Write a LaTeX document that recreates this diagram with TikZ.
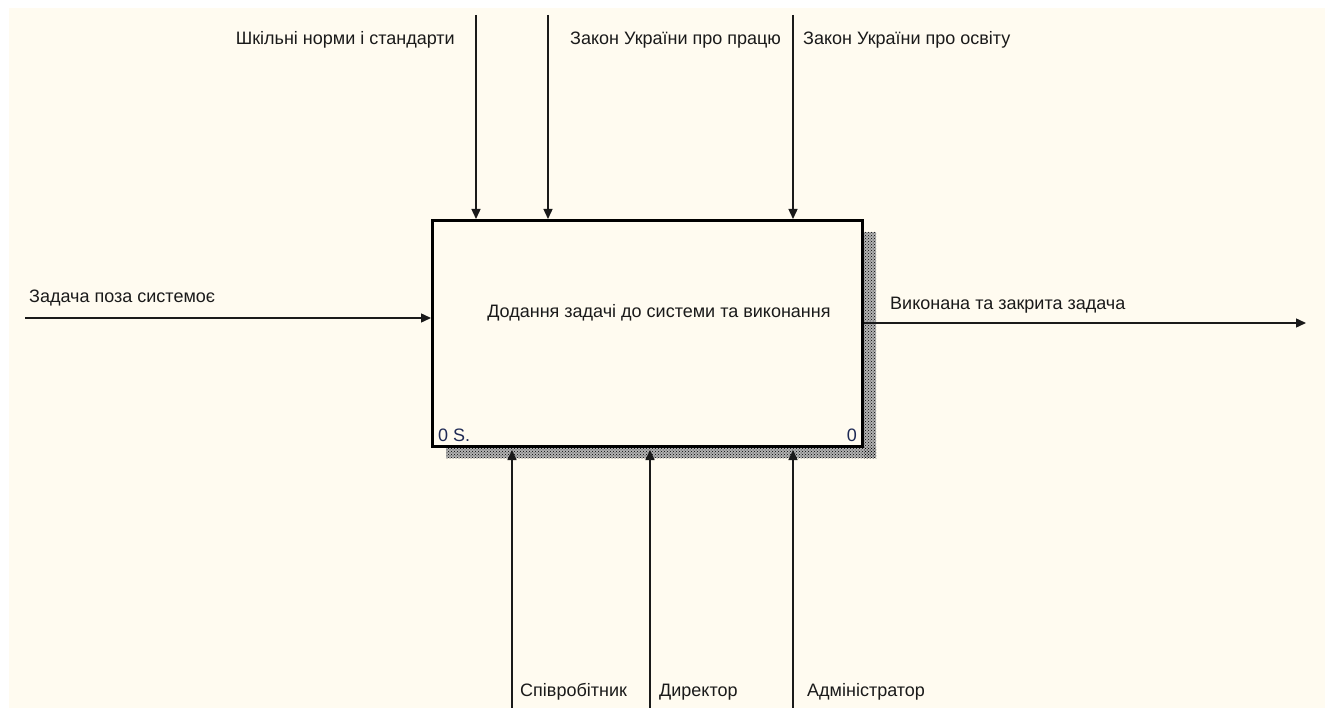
\documentclass[tikz,border=0pt]{standalone}
\usepackage{fontspec}
\setmainfont{Liberation Sans}
\usetikzlibrary{arrows.meta,patterns}
\definecolor{paper}{HTML}{FFFBF0}
\definecolor{ink}{HTML}{1A1A1A}
\definecolor{numcol}{HTML}{1F2A55}
\begin{document}
\begin{tikzpicture}[x=1pt,y=-1pt,
  lbl/.style={font=\fontsize{18}{21}\selectfont, text=ink, inner sep=0pt},
  flow/.style={draw=ink, line width=1.4pt, -{Triangle[length=10pt,width=9pt]}},
  shade/.style={pattern=crosshatch dots, pattern color=black, draw=none},
  funcbox/.style={draw=black, line width=3pt, fill=paper, inner sep=0pt,
    minimum width=430pt, minimum height=226pt, anchor=north west}]
  % canvas
  \useasboundingbox (0,0) rectangle (1325,708);
  \fill[white] (0,0) rectangle (1325,708);
  \fill[paper] (9,8) rectangle (1325,708);

  % drop shadow of the activity box
  \fill[black!30] (864,232) rectangle (876,458);
  \fill[black!30] (446,447) rectangle (876,458);
  \fill[shade] (864,232) rectangle (876,458);
  \fill[shade] (446,447) rectangle (876,458);

  % activity box
  \node[funcbox] (box) at (431,219) {};
  \node[lbl] (title) at (659,313) {Додання задачі до системи та виконання};
  \node[lbl, anchor=south west, text=numcol] (num) at (438,442) {0 S.};
  \node[lbl, anchor=south east, text=numcol] (cost) at (857,442) {0};

  % free ends of the arrows
  \coordinate (c1) at (476,15);
  \coordinate (c2) at (548,15);
  \coordinate (c3) at (793,15);
  \coordinate (in1) at (25,318);
  \coordinate (out1) at (1306,323);
  \coordinate (m1) at (512,708);
  \coordinate (m2) at (650,708);
  \coordinate (m3) at (793,708);

  % controls
  \draw[flow] (c1) -- (c1 |- box.north);
  \draw[flow] (c2) -- (c2 |- box.north);
  \draw[flow] (c3) -- (c3 |- box.north);
  \node[lbl, anchor=east] (lc1) at (455,40) {Шкільні норми і стандарти};
  \node[lbl, anchor=west] (lc2) at (570,40) {Закон України про працю};
  \node[lbl, anchor=west] (lc3) at (803,40) {Закон України про освіту};

  % input
  \draw[flow] (in1) -- (in1 -| box.west);
  \node[lbl, anchor=west] (lin1) at (29,298) {Задача поза системоє};

  % output
  \draw[flow] (box.east |- out1) -- (out1);
  \node[lbl, anchor=west] (lout1) at (890,305) {Виконана та закрита задача};

  % mechanisms
  \draw[flow] (m1) -- ([yshift=-2pt]m1 |- box.south);
  \draw[flow] (m2) -- ([yshift=-2pt]m2 |- box.south);
  \draw[flow] (m3) -- ([yshift=-2pt]m3 |- box.south);
  \node[lbl, anchor=west] (lm1) at (520,692) {Співробітник};
  \node[lbl, anchor=west] (lm2) at (659,692) {Директор};
  \node[lbl, anchor=west] (lm3) at (807,692) {Адміністратор};
\end{tikzpicture}
\end{document}
